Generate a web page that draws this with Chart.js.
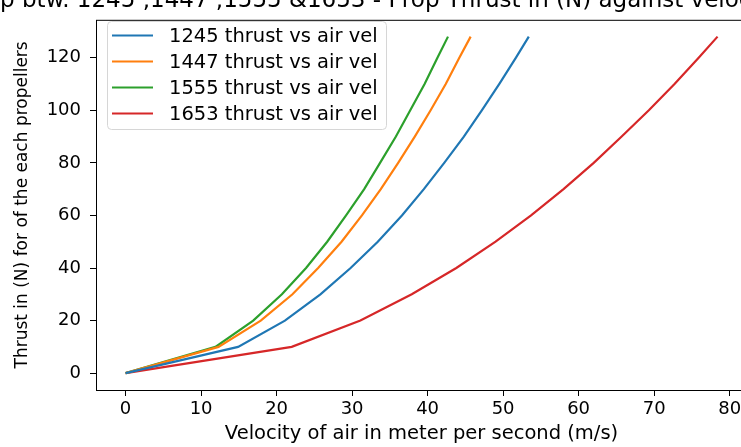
<!DOCTYPE html>
<html>
<head>
<meta charset="utf-8">
<script src="https://cdn.jsdelivr.net/npm/chart.js@4.4.0/dist/chart.umd.min.js"></script>
<style>
  html, body { margin: 0; padding: 0; overflow: hidden; background: #fff; width: 741px; height: 447px; }
  canvas { display: block; }
</style>
</head>
<body>
<canvas id="thrustChart" width="760" height="447"></canvas>
<script>
// thrust steps (N) and the air velocity (m/s) read for each propeller
var thrust = [0, 10, 20, 30, 40, 50, 60, 70, 80, 90, 100, 110, 120, 128];
var vel1245 = [0, 14.9, 21.1, 25.8, 29.8, 33.4, 36.6, 39.5, 42.2, 44.8, 47.2, 49.5, 51.7, 53.4];
var vel1447 = [0, 12.3, 17.9, 22.1, 25.5, 28.6, 31.3, 33.8, 36.1, 38.3, 40.4, 42.4, 44.2, 45.7];
var vel1555 = [0, 11.9, 16.9, 20.7, 23.9, 26.7, 29.2, 31.6, 33.7, 35.8, 37.7, 39.6, 41.3, 42.7];
var vel1653 = [0, 22.0, 31.1, 37.9, 43.8, 49.0, 53.7, 58.0, 62.0, 65.7, 69.3, 72.7, 75.9, 78.4];

var seriesNames = ['1245 thrust vs air vel', '1447 thrust vs air vel', '1555 thrust vs air vel', '1653 thrust vs air vel'];
var xTicks = [0, 10, 20, 30, 40, 50, 60, 70, 80];
var yTicks = [0, 20, 40, 60, 80, 100, 120];

var titleText = 'Relationship btw. 1245 ,1447 ,1555 &1653 - Prop Thrust in (N) against velocity';
var colors = ['#1f77b4', '#ff7f0e', '#2ca02c', '#d62728'];
var FONT = 'DejaVu Sans';

function toPoints(vel) {
    return vel.map(function(v, i) { return { x: v, y: thrust[i] }; });
}

// frame, cropped title and matplotlib style legend
var decorPlugin = {
    id: 'decor',
    afterDraw: function(chart) {
        var ctx = chart.ctx;
        var area = chart.chartArea;
        ctx.save();

        ctx.strokeStyle = '#000';
        ctx.lineWidth = 1;
        ctx.strokeRect(area.left + 0.5, area.top + 0.5, area.right - area.left - 1, area.bottom - area.top);

        ctx.fillStyle = '#000';
        ctx.font = '23px "' + FONT + '"';
        ctx.textBaseline = 'alphabetic';
        ctx.textAlign = 'left';
        var shift = ctx.measureText('Relationshi').width;
        ctx.fillText(titleText, -shift, 7);

        // legend box
        ctx.beginPath();
        ctx.roundRect(107.5, 21.5, 279, 108, 4);
        ctx.fillStyle = 'rgba(255,255,255,0.8)';
        ctx.fill();
        ctx.strokeStyle = '#d6d6d6';
        ctx.stroke();

        ctx.font = '19.5px "' + FONT + '"';
        ctx.textBaseline = 'middle';
        chart.data.datasets.forEach(function(ds, i) {
            var y = 35.5 + i * 26;
            ctx.beginPath();
            ctx.moveTo(112, y);
            ctx.lineTo(153, y);
            ctx.strokeStyle = ds.borderColor;
            ctx.lineWidth = 2.2;
            ctx.stroke();
            ctx.fillStyle = '#000';
            ctx.fillText(ds.label, 169, y + 1);
        });
        ctx.restore();
    }
};

var ctx = document.getElementById('thrustChart').getContext('2d');
var chart = new Chart(ctx, {
    type: 'line',
    data: {
        datasets: [vel1245, vel1447, vel1555, vel1653].map(function(vel, i) {
            return {
                label: seriesNames[i],
                data: toPoints(vel),
                borderColor: colors[i],
                backgroundColor: colors[i],
                borderWidth: 2.2,
                pointRadius: 0,
                tension: 0,
                fill: false
            };
        })
    },
    options: {
        responsive: false,
        animation: false,
        devicePixelRatio: 1,
        layout: { padding: { top: 13, right: 13, left: 0, bottom: 0 } },
        plugins: {
            legend: { display: false },
            title: { display: false },
            tooltip: { enabled: false }
        },
        scales: {
            x: {
                type: 'linear',
                min: -3.92,
                max: 82.3,
                afterBuildTicks: function(scale) {
                    scale.ticks = xTicks.map(function(v) { return { value: v }; });
                },
                afterFit: function(scale) { scale.height = 57; },
                grid: { drawOnChartArea: false, drawTicks: true, tickLength: 6, tickColor: '#000', color: '#000' },
                border: { display: false },
                ticks: { color: '#000', padding: 3, maxRotation: 0, font: { family: FONT, size: 18 } },
                title: {
                    display: true,
                    text: 'Velocity of air in meter per second (m/s)',
                    color: '#000',
                    padding: { top: 0, bottom: 1 },
                    font: { family: FONT, size: 19.5 }
                }
            },
            y: {
                type: 'linear',
                min: -6.4,
                max: 134.4,
                afterBuildTicks: function(scale) {
                    scale.ticks = yTicks.map(function(v) { return { value: v }; });
                },
                afterFit: function(scale) { scale.width = 96; },
                grid: { drawOnChartArea: false, drawTicks: true, tickLength: 6, tickColor: '#000', color: '#000' },
                border: { display: false },
                ticks: { color: '#000', padding: 9, font: { family: FONT, size: 18 } },
                title: {
                    display: true,
                    text: 'Thrust in (N) for of the each propellers',
                    color: '#000',
                    padding: { top: 12, bottom: 0 },
                    font: { family: FONT, size: 17 }
                }
            }
        }
    },
    plugins: [decorPlugin]
});
</script>
</body>
</html>
